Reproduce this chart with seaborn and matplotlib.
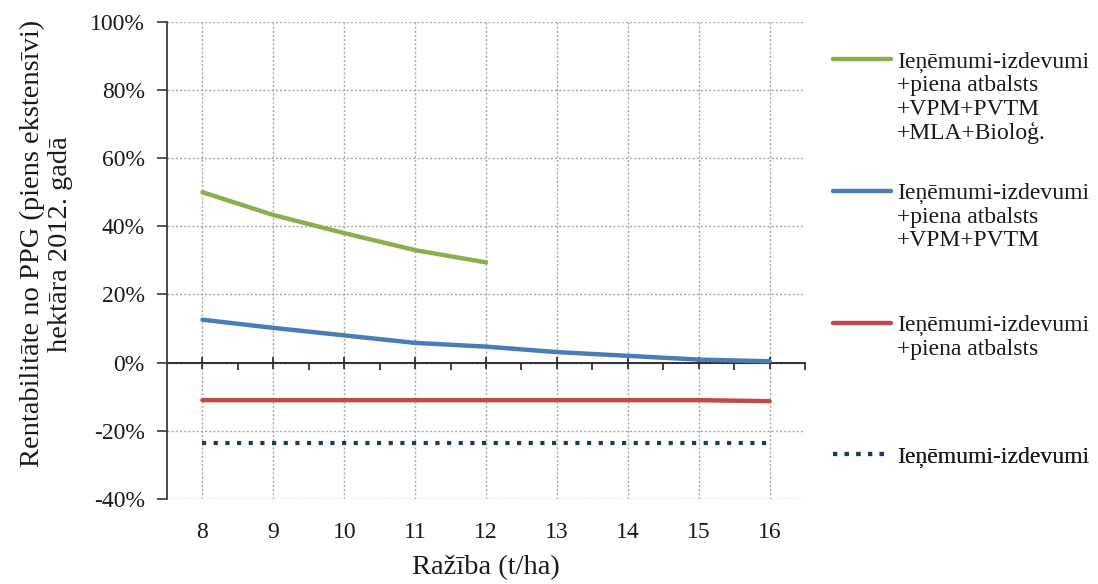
import numpy as np
import pandas as pd
import matplotlib
matplotlib.use("Agg")
import matplotlib.pyplot as plt
import seaborn as sns
from matplotlib.ticker import PercentFormatter
from matplotlib.lines import Line2D

# ---- data ----
x_all = [8, 9, 10, 11, 12, 13, 14, 15, 16]
x_green = [8, 9, 10, 11, 12]
green_vals = [50.0, 43.3, 38.0, 33.0, 29.4]
blue_vals = [12.6, 10.2, 8.0, 5.8, 4.7, 3.1, 2.0, 0.9, 0.4]
red_vals = [-11.0, -11.0, -11.0, -11.0, -11.0, -11.0, -11.0, -11.0, -11.3]
dotted_vals = [-23.6, -23.6, -23.6, -23.6, -23.6, -23.6, -23.6, -23.6, -23.6]

series_labels = [
    "Ieņēmumi-izdevumi\n+piena atbalsts\n+VPM+PVTM\n+MLA+Bioloģ.",
    "Ieņēmumi-izdevumi\n+piena atbalsts\n+VPM+PVTM",
    "Ieņēmumi-izdevumi\n+piena atbalsts",
    "Ieņēmumi-izdevumi",
]
x_ticks = [8, 9, 10, 11, 12, 13, 14, 15, 16]
y_ticks = [-40, -20, 0, 20, 40, 60, 80, 100]
x_label = "Ražība (t/ha)"
y_label = "Rentabilitāte no PPG (piens ekstensīvi)\nhektāra 2012. gadā"

colors = ["#8BAF4E", "#4A7CB5", "#BE4B48", "#1F3864"]

sns.set_theme(style="white")
plt.rcParams["font.family"] = ["Liberation Serif", "DejaVu Serif"]
plt.rcParams["axes.unicode_minus"] = False

fig = plt.figure(figsize=(10.98, 5.84), dpi=100)
ax = fig.add_axes([0.1521, 0.1455, 0.5811, 0.8173])

sns.lineplot(x=x_green, y=green_vals, ax=ax, color=colors[0], linewidth=3.2, legend=False)
sns.lineplot(x=x_all, y=blue_vals, ax=ax, color=colors[1], linewidth=3.2, legend=False)
sns.lineplot(x=x_all, y=red_vals, ax=ax, color=colors[2], linewidth=3.2, legend=False)
sns.lineplot(x=x_all, y=dotted_vals, ax=ax, color=colors[3], linewidth=3,
             linestyle=(0, (1, 1.8)), legend=False)
handles = list(ax.lines[:4])

ax.set_xlim(7.5, 16.5)
ax.set_ylim(-40, 100)

# grid
ax.set_axisbelow(True)
ax.grid(True, which="major", color="#A8A8A8", linestyle=(0, (1.5, 1.5)), linewidth=1)

# spines
ax.spines["top"].set_visible(False)
ax.spines["right"].set_visible(False)
ax.spines["left"].set_color("#3A3A3A")
ax.spines["left"].set_linewidth(1.3)
ax.spines["bottom"].set_position(("data", 0))
ax.spines["bottom"].set_color("#222222")
ax.spines["bottom"].set_linewidth(1.3)
ax.spines["bottom"].set_zorder(1)

# x ticks on zero line
ax.set_xticks(x_ticks)
ax.set_xticks(np.arange(8.5, 17, 1), minor=True)
ax.tick_params(axis="x", which="major", bottom=True, direction="inout", length=9,
               width=1.2, color="#222222", labelbottom=False)
ax.tick_params(axis="x", which="minor", bottom=True, direction="out", length=5,
               width=1.2, color="#222222")

# y ticks
ax.set_yticks(y_ticks)
ax.yaxis.set_major_formatter(PercentFormatter(decimals=0))
ax.tick_params(axis="y", left=True, direction="out", length=7, width=1.2,
               color="#3A3A3A", labelsize=17, pad=9, labelcolor="#1A1A1A")

# x tick labels at bottom
sec = ax.secondary_xaxis("bottom")
sec.set_xticks(x_ticks)
sec.tick_params(length=0, labelsize=17, pad=16.5, labelcolor="#1A1A1A")
for s in sec.spines.values():
    s.set_visible(False)
sec.set_xlabel(x_label, fontsize=20.5, labelpad=9, color="#1A1A1A")

ax.set_ylabel(y_label, fontsize=20.5, linespacing=1.12, color="#1A1A1A")
ax.yaxis.set_label_coords(-0.148, 0.535)

# legends: one per series, first line carries the handle
blank = Line2D([], [], linestyle="none")
top0 = 1 - 51 / 584
step = 131.7 / 584
for i, (h, lab) in enumerate(zip(handles, series_labels)):
    parts = lab.split("\n")
    hs = [h] + [blank] * (len(parts) - 1)
    leg = ax.legend(hs, parts, loc="upper left",
                    bbox_to_anchor=(833 / 1098, top0 - i * step),
                    bbox_transform=fig.transFigure, frameon=False,
                    fontsize=17, handlelength=2.45, handletextpad=0.25,
                    labelspacing=0.08, borderpad=0, borderaxespad=0)
    for t in leg.get_texts():
        t.set_color("#1A1A1A")
    ax.add_artist(leg)

fig.savefig("out.png", dpi=100)
